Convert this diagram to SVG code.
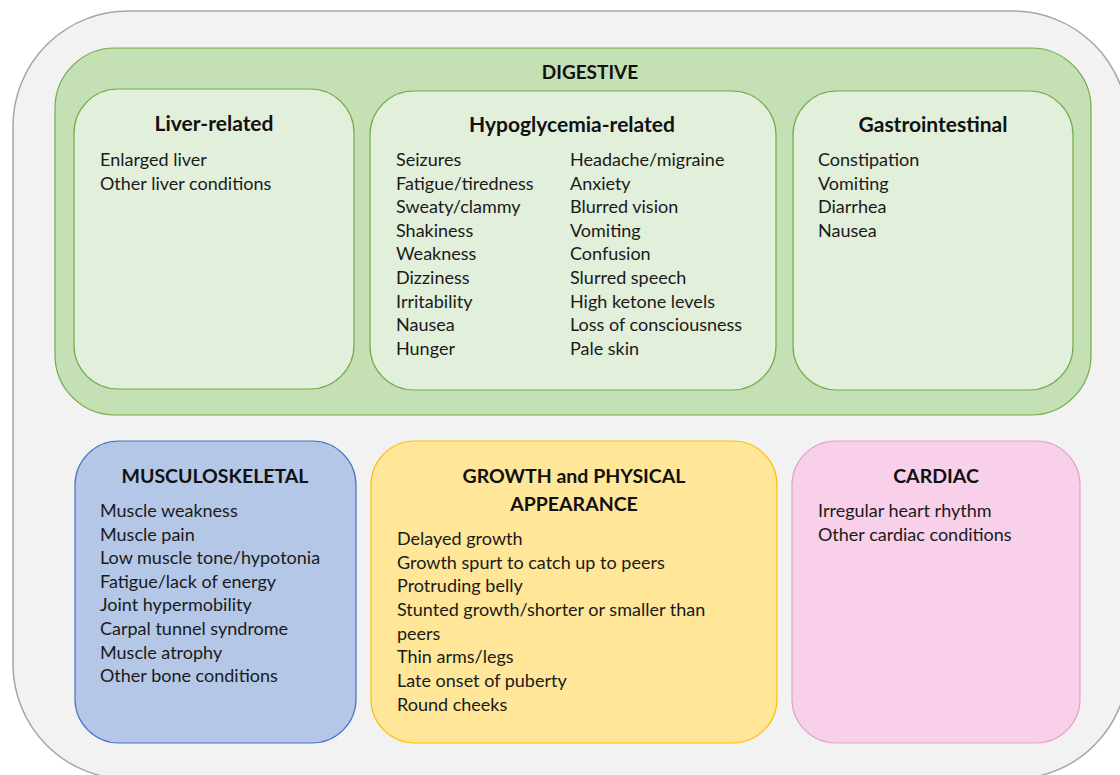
<svg xmlns="http://www.w3.org/2000/svg" width="1120" height="775" viewBox="0 0 1120 775">
  <style>
    .item { font-family: Lato, "Liberation Sans", sans-serif; font-size: 18px; fill: #1a1a1a; }
    .title { font-family: Lato, "Liberation Sans", sans-serif; font-size: 21px; font-weight: bold; fill: #111; text-anchor: middle; }
    .caps { font-family: Lato, "Liberation Sans", sans-serif; font-size: 19.5px; font-weight: bold; fill: #111; text-anchor: middle; }
    .head { font-family: Lato, "Liberation Sans", sans-serif; font-size: 19px; font-weight: bold; fill: #111; text-anchor: middle; }
    .green-sub { fill: #e2efda; stroke: #70ad47; stroke-width: 1.2; }
  </style>

  <rect width="1120" height="775" fill="#ffffff"/>

  <!-- outer frame -->
  <rect id="frame" x="13" y="11" width="1115" height="768" rx="115" ry="115" fill="#f2f2f2" stroke="#a6a6a6" stroke-width="1.5"/>

  <!-- digestive block with its three sub-groups -->
  <g id="digestive">
    <rect x="55" y="48" width="1036" height="367" rx="60" ry="60" fill="#c5e0b4" stroke="#70ad47" stroke-width="1.2"/>
    <text class="head" x="590" y="79">DIGESTIVE</text>
  </g>

  <g id="liver">
    <rect class="green-sub" x="74" y="89" width="280" height="300" rx="44" ry="44"/>
    <text class="title" x="214" y="131">Liver-related</text>
    <text class="item" x="100" y="166">Enlarged liver</text>
    <text class="item" x="100" y="190">Other liver conditions</text>
  </g>

  <g id="hypoglycemia">
    <rect class="green-sub" x="370" y="91" width="406" height="299" rx="44" ry="44"/>
    <text class="title" x="572" y="132">Hypoglycemia-related</text>
    <g class="item">
      <text x="396" y="166">Seizures</text>
      <text x="396" y="190">Fatigue/tiredness</text>
      <text x="396" y="213">Sweaty/clammy</text>
      <text x="396" y="237">Shakiness</text>
      <text x="396" y="260">Weakness</text>
      <text x="396" y="284">Dizziness</text>
      <text x="396" y="308">Irritability</text>
      <text x="396" y="331">Nausea</text>
      <text x="396" y="355">Hunger</text>
      <text x="570" y="166">Headache/migraine</text>
      <text x="570" y="190">Anxiety</text>
      <text x="570" y="213">Blurred vision</text>
      <text x="570" y="237">Vomiting</text>
      <text x="570" y="260">Confusion</text>
      <text x="570" y="284">Slurred speech</text>
      <text x="570" y="308">High ketone levels</text>
      <text x="570" y="331">Loss of consciousness</text>
      <text x="570" y="355">Pale skin</text>
    </g>
  </g>

  <g id="gastrointestinal">
    <rect class="green-sub" x="793" y="91" width="280" height="299" rx="44" ry="44"/>
    <text class="title" x="933" y="132">Gastrointestinal</text>
    <g class="item">
      <text x="818" y="166">Constipation</text>
      <text x="818" y="190">Vomiting</text>
      <text x="818" y="213">Diarrhea</text>
      <text x="818" y="237">Nausea</text>
    </g>
  </g>

  <!-- lower row -->
  <g id="musculoskeletal">
    <rect x="75" y="441" width="281" height="302" rx="44" ry="44" fill="#b4c7e7" stroke="#4472c4" stroke-width="1.2"/>
    <text class="caps" x="215" y="483">MUSCULOSKELETAL</text>
    <g class="item">
      <text x="100" y="517">Muscle weakness</text>
      <text x="100" y="541">Muscle pain</text>
      <text x="100" y="564">Low muscle tone/hypotonia</text>
      <text x="100" y="588">Fatigue/lack of energy</text>
      <text x="100" y="611">Joint hypermobility</text>
      <text x="100" y="635">Carpal tunnel syndrome</text>
      <text x="100" y="659">Muscle atrophy</text>
      <text x="100" y="682">Other bone conditions</text>
    </g>
  </g>

  <g id="growth">
    <rect x="371" y="441" width="406" height="302" rx="44" ry="44" fill="#ffe699" stroke="#ffc000" stroke-width="1.2"/>
    <text class="caps" x="574" y="483">GROWTH and PHYSICAL</text>
    <text class="caps" x="574" y="511">APPEARANCE</text>
    <g class="item">
      <text x="397" y="545">Delayed growth</text>
      <text x="397" y="569">Growth spurt to catch up to peers</text>
      <text x="397" y="592">Protruding belly</text>
      <text x="397" y="616">Stunted growth/shorter or smaller than</text>
      <text x="397" y="640">peers</text>
      <text x="397" y="663">Thin arms/legs</text>
      <text x="397" y="687">Late onset of puberty</text>
      <text x="397" y="711">Round cheeks</text>
    </g>
  </g>

  <g id="cardiac">
    <rect x="792" y="441" width="288" height="302" rx="44" ry="44" fill="#f8d0ea" stroke="#e6a0cf" stroke-width="1.2"/>
    <text class="caps" x="936" y="483">CARDIAC</text>
    <g class="item">
      <text x="818" y="517">Irregular heart rhythm</text>
      <text x="818" y="541">Other cardiac conditions</text>
    </g>
  </g>
</svg>
